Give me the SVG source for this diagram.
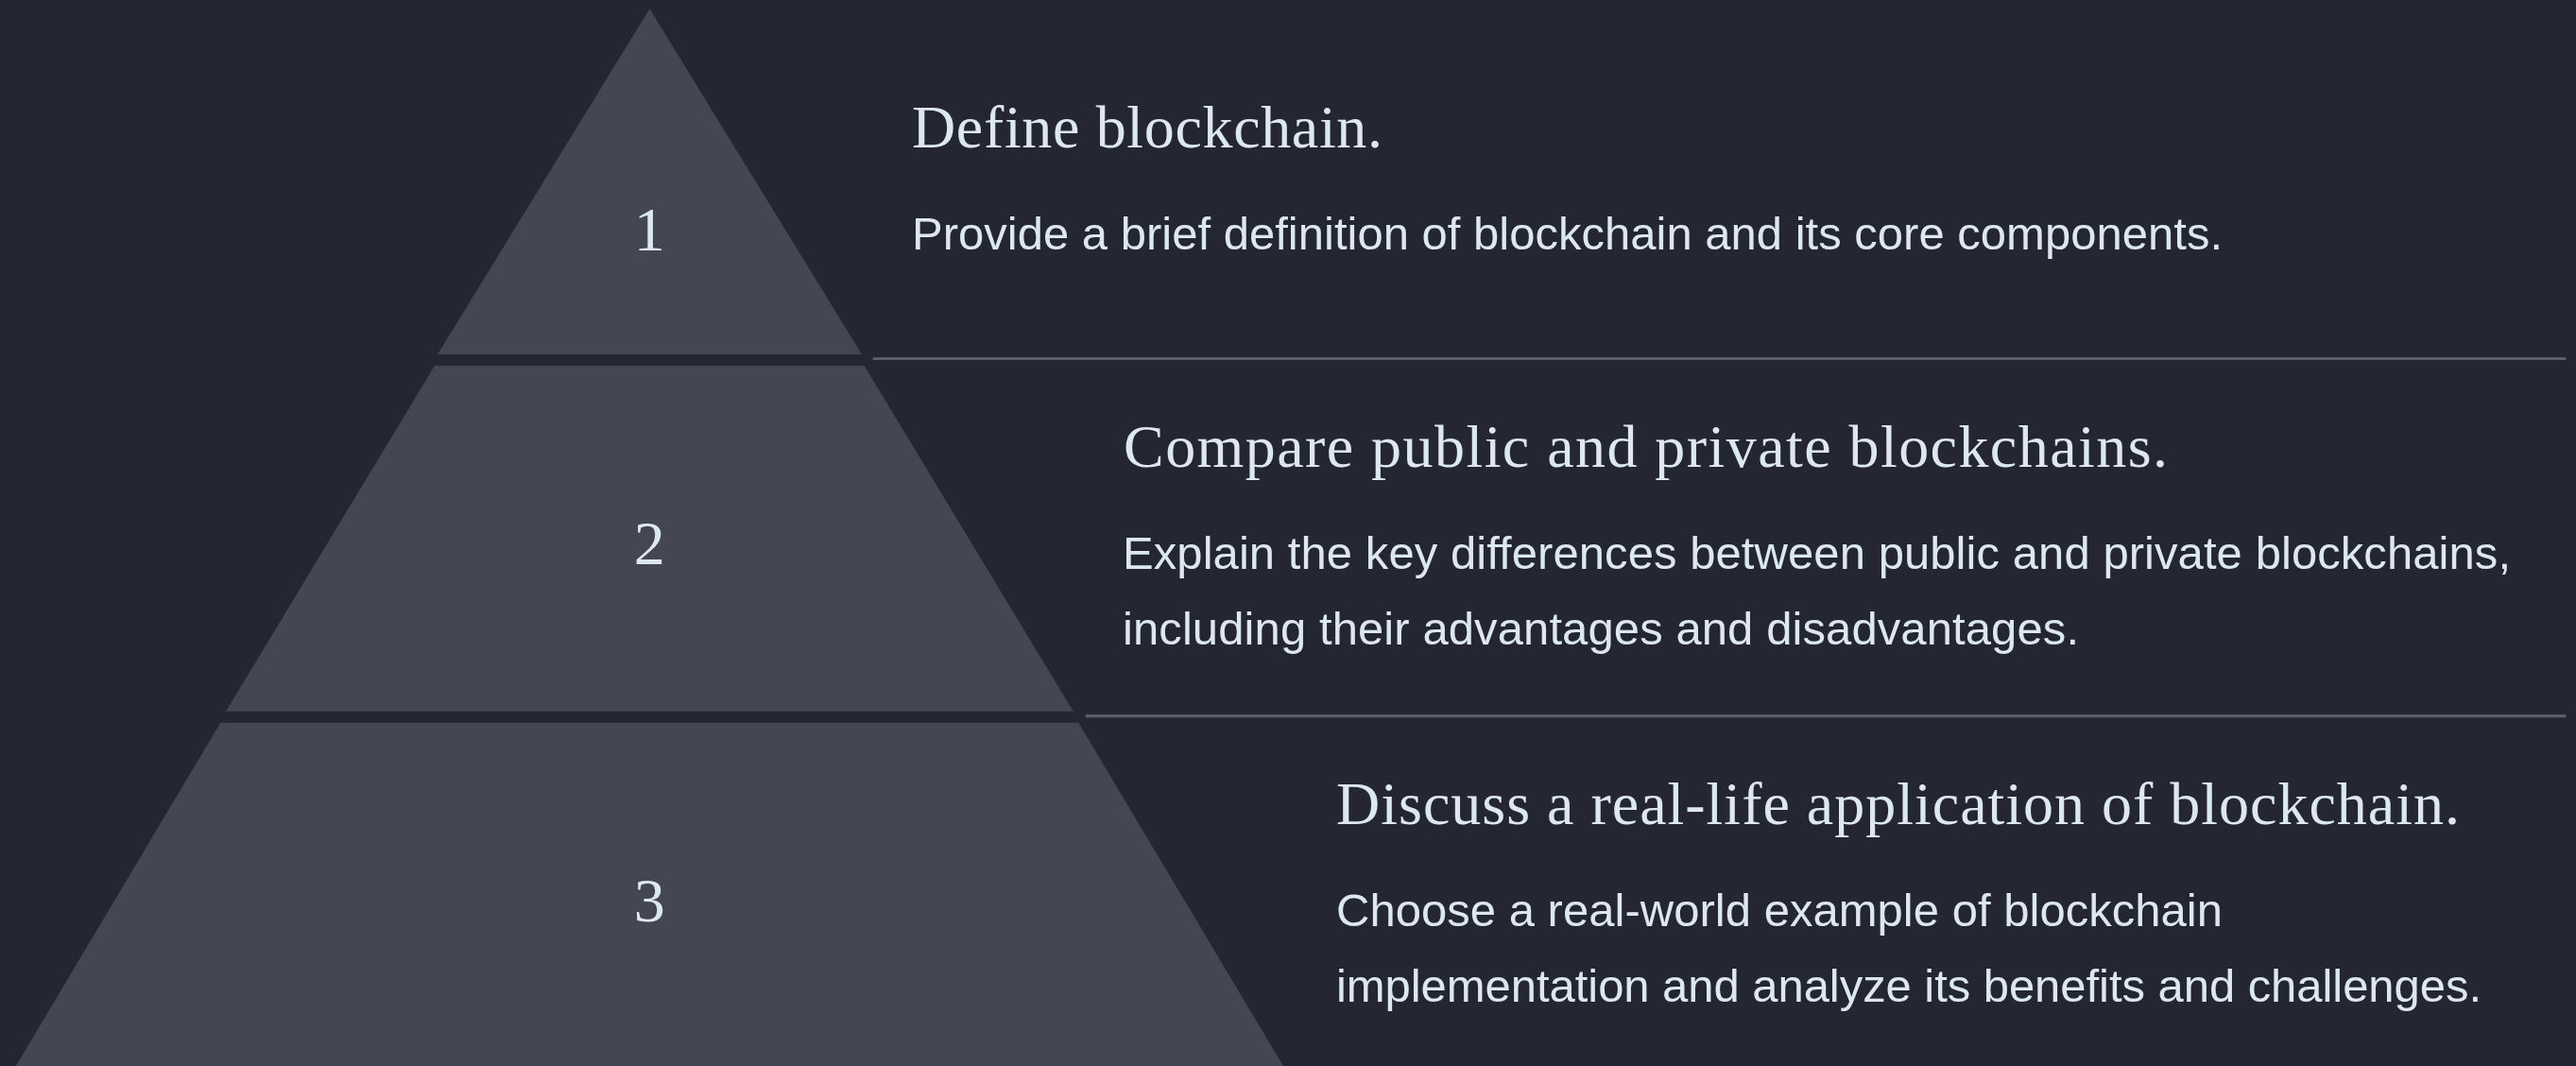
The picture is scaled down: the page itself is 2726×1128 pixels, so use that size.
<svg xmlns="http://www.w3.org/2000/svg" width="2726" height="1128" viewBox="0 0 2726 1128">
  <style>
    .bg { fill: #242631; }
    .tier { fill: #444653; }
    .sep { stroke: #5c5f6b; stroke-width: 3.2; stroke-linecap: round; fill: none; }
    .num { font-family: "Liberation Serif", "DejaVu Serif", serif; font-size: 66px; fill: #dce7f2; text-anchor: middle; }
    .title { font-family: "Liberation Serif", "DejaVu Serif", serif; font-size: 64px; fill: #dce7f2; }
    .body { font-family: "Liberation Sans", Arial, sans-serif; font-size: 49px; fill: #dce7f2; }
  </style>

  <rect class="bg" x="0" y="0" width="2726" height="1128"/>

  <!-- dividers between the levels -->
  <g id="connectors">
    <line class="sep" x1="925" y1="379.5" x2="2714" y2="379.5"/>
    <line class="sep" x1="1150" y1="757.7" x2="2714" y2="757.7"/>
  </g>

  <!-- level 1: apex -->
  <g id="tier-1">
    <polygon class="tier" points="687.5,9.3 912,375 463,375"/>
    <text class="num" x="687.3" y="265">1</text>
    <text class="title" x="965" y="156" textLength="498" lengthAdjust="spacing">Define blockchain.</text>
    <text class="body" x="965" y="263.5" textLength="1387" lengthAdjust="spacing">Provide a brief definition of blockchain and its core components.</text>
  </g>

  <!-- level 2: middle band -->
  <g id="tier-2">
    <polygon class="tier" points="460,387 914.6,387 1135.8,752.7 239,752.7"/>
    <text class="num" x="687.3" y="597">2</text>
    <text class="title" x="1189" y="494" textLength="1105" lengthAdjust="spacing">Compare public and private blockchains.</text>
    <text class="body" x="1188" y="601.7" textLength="1469" lengthAdjust="spacing">Explain the key differences between public and private blockchains,</text>
    <text class="body" x="1188" y="681.7" textLength="1012" lengthAdjust="spacing">including their advantages and disadvantages.</text>
  </g>

  <!-- level 3: base -->
  <g id="tier-3">
    <polygon class="tier" points="233.3,764.7 1141.3,764.7 1358,1128 16.8,1128"/>
    <text class="num" x="687.3" y="975">3</text>
    <text class="title" x="1414" y="872" textLength="1189" lengthAdjust="spacing">Discuss a real-life application of blockchain.</text>
    <text class="body" x="1414" y="980" textLength="938" lengthAdjust="spacing">Choose a real-world example of blockchain</text>
    <text class="body" x="1414" y="1059.5" textLength="1212" lengthAdjust="spacing">implementation and analyze its benefits and challenges.</text>
  </g>
</svg>
